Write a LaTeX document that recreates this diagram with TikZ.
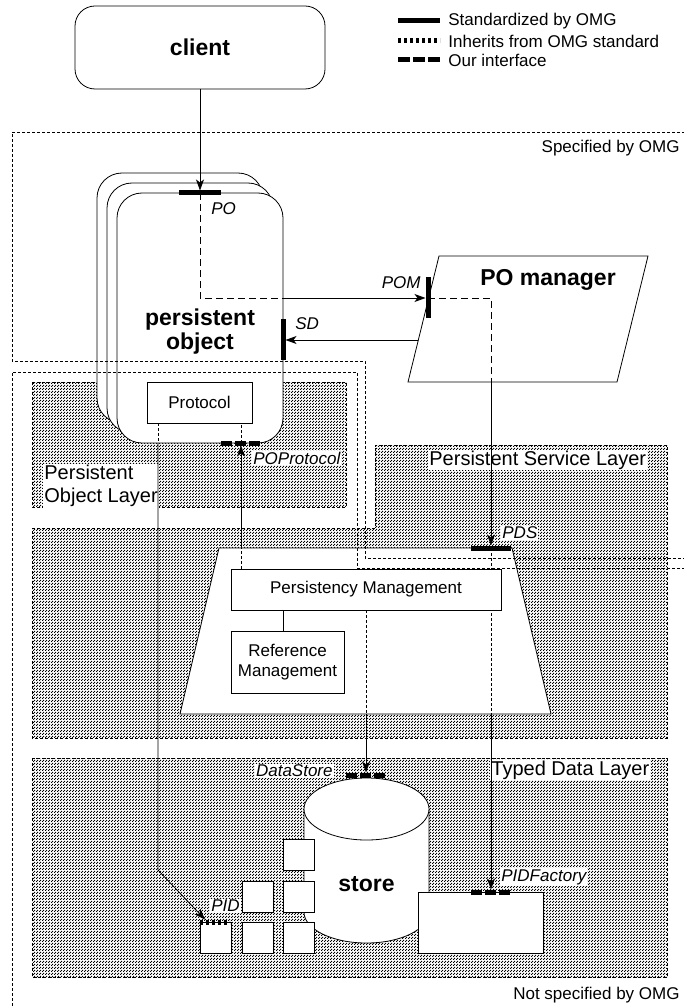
\documentclass[tikz,border=0pt]{standalone}
\usepackage{fontspec}
\setmainfont{Liberation Sans}
\usetikzlibrary{arrows.meta,patterns,positioning,calc}

\pgfdeclarepatternformonly{finedots}{\pgfpointorigin}{\pgfqpoint{3pt}{3pt}}{\pgfqpoint{3pt}{3pt}}{%
    \pgfpathrectangle{\pgfqpoint{0.1pt}{0.1pt}}{\pgfqpoint{1.3pt}{1.3pt}}%
    \pgfpathrectangle{\pgfqpoint{1.6pt}{1.6pt}}{\pgfqpoint{1.3pt}{1.3pt}}%
    \pgfusepath{fill}}

\begin{document}
\begin{tikzpicture}[x=1pt,y=-1pt,line width=0.8pt,
        >={Stealth[length=11pt,width=8pt,inset=3pt]},
        txt/.style={font=\fontsize{17}{20}\selectfont, inner sep=1pt},
        itlbl/.style={font=\fontsize{17}{20}\selectfont\itshape, inner sep=1pt, fill=white},
        layerlbl/.style={font=\fontsize{20}{23}\selectfont, inner sep=1pt, fill=white, align=left},
        bigbold/.style={font=\fontsize{23}{24}\selectfont\bfseries, inner sep=1pt, align=center},
        box/.style={draw, fill=white, inner sep=1pt, font=\fontsize{17}{20}\selectfont, align=center},
        pobj/.style={draw, fill=white, rounded corners=25pt, minimum width=166pt, minimum height=250pt},
        sq/.style={draw, fill=white, minimum size=31pt, inner sep=0pt},
        layer/.style={draw, dash pattern=on 3pt off 2pt, line width=0.6pt, pattern=finedots, pattern color=black},
        region/.style={draw, dash pattern=on 3pt off 2pt, line width=0.6pt},
        longdash/.style={dash pattern=on 7pt off 4pt},
        finedash/.style={dash pattern=on 3pt off 2pt},
        stdbar/.style={line width=5pt},
        inhbar/.style={line width=5pt, dash pattern=on 3pt off 3pt},
        ourbar/.style={line width=5pt, dash pattern=on 11pt off 3pt}]
    \useasboundingbox (0,0) rectangle (683,1008);

    % legend
    \draw[stdbar] (398,21) -- (440,21);
    \node[txt, anchor=west] (lgstd) at (447,21) {Standardized by OMG};
    \draw[inhbar] (398,41) -- (440,41);
    \node[txt, anchor=west] (lginh) at (447,41) {Inherits from OMG standard};
    \draw[ourbar, dash pattern=on 12pt off 3pt] (398,60) -- (440,60);
    \node[txt, anchor=west] (lgour) at (447,60) {Our interface};

    % layers
    \path[layer] (32,382) rectangle (346,507);
    \path[layer] (32,528) -- (375,528) -- (375,445) -- (667,445) -- (667,738) -- (32,738) -- cycle;
    \path[layer] (32,758) rectangle (667,977);
    \node[layerlbl, anchor=west] (pol) at (43,486) {Persistent\\Object Layer};
    \node[layerlbl, anchor=west] (psl) at (428,460) {Persistent Service Layer};
    \node[layerlbl, anchor=west] (tdl) at (490,770) {Typed Data Layer};

    % client and persistent object
    \node[pobj, rounded corners=20pt, minimum width=250pt, minimum height=83pt,
        bigbold] (client) at (200,47.5) {client};
    \node[pobj] (obj3) at (180,298) {};
    \node[pobj] (obj2) at (190,308) {};
    \node[pobj] (obj1) at (200,318) {};
    \node[bigbold] (objlbl) at (200,332) {persistent\\object};
    \node[box, minimum width=105pt, minimum height=41pt] (protocol) at (199.5,402.5) {Protocol};

    % PO manager
    \coordinate (mgrtl) at (439,256);
    \coordinate (mgrtr) at (648,256);
    \coordinate (mgrbr) at (617,382);
    \coordinate (mgrbl) at (408,382);
    \draw[fill=white] (mgrtl) -- (mgrtr) -- (mgrbr) -- (mgrbl) -- cycle;
    \node[bigbold] (mgr) at (548,280) {PO manager};

    % persistent service
    \coordinate (traptl) at (219,548);
    \coordinate (traptr) at (512,548);
    \coordinate (trapbr) at (551,714);
    \coordinate (trapbl) at (180,714);
    \draw[fill=white] (traptl) -- (traptr) -- (trapbr) -- (trapbl) -- cycle;

    % store
    \draw[fill=white] (304,809) -- (304,912) arc[start angle=180, end angle=360,
        x radius=62.5pt, y radius=31pt] -- (429,809);
    \draw[fill=white] (366.5,809) ellipse[x radius=62.5pt, y radius=31pt];
    \node[bigbold] (store) at (366.5,884) {store};

    % interfaces
    \coordinate (PO) at (200,193);
    \coordinate (POM) at (428,298);
    \coordinate (SD) at (283,340);
    \coordinate (POProtocol) at (241,443);
    \coordinate (PDS) at (491,548);
    \coordinate (DataStore) at (366,775);
    \coordinate (PIDFactory) at (491,892);
    \coordinate (PID) at (215,922);
    \coordinate (sdfrom) at (418,340);
    \coordinate (pidbend) at (158,870);

    % connectors
    \draw[->, shorten >=2.5pt] (client) -- (PO);
    \draw[longdash] (PO) |- (obj1.east |- POM);
    \draw[->, shorten >=2.5pt] (obj1.east |- POM) -- (POM);
    \draw[longdash] (POM) -| (PDS |- mgrbl);
    \draw[->, shorten >=2.5pt] (PDS |- mgrbl) -- (PDS);
    \draw[finedash] (PDS) -- (PDS |- trapbl);
    \draw[->, shorten >=2.5pt] (PDS |- trapbl) -- (PIDFactory);
    \draw[->, shorten >=2.5pt] (sdfrom) -- (SD);
    \draw[finedash] (POProtocol) -- (protocol.south -| POProtocol);
    \draw[finedash] (protocol.south -| pidbend) -- (obj1.south -| pidbend);
    \draw[->] (obj1.south -| pidbend) -- (pidbend) -- ([xshift=-10pt,yshift=2.5pt]PID);

    \node[box, minimum width=270pt, minimum height=41pt] (pm) at (366,589.5) {Persistency Management};
    \node[box, minimum width=113pt, minimum height=62pt] (refmgmt) at (287.5,662) {Reference\\Management};
    \draw ([xshift=-4.5pt]refmgmt.north) -- ([xshift=-4.5pt]refmgmt.north |- pm.south);
    \draw[finedash] (pm.north -| POProtocol) -- (POProtocol |- traptl);
    \draw[->, shorten >=2.5pt] (POProtocol |- traptl) -- (POProtocol);
    \draw[finedash] (pm.south -| DataStore) -- (DataStore |- trapbl);
    \draw[->, shorten >=2.5pt] (DataStore |- trapbl) -- (DataStore);

    % small objects in the store
    \foreach \n/\x/\y in {1/298.5/854.5, 2/257.5/897, 3/298.5/897, 4/216/937.5, 5/257.5/937.5, 6/298.5/937.5}
        \node[sq] (obj\n) at (\x,\y) {};
    \node[sq, minimum width=125pt, minimum height=61pt] (pidfactory) at (480.5,922.5) {};

    % bars
    \draw[stdbar] ([xshift=-21pt]PO) -- ([xshift=21pt]PO);
    \draw[stdbar] ([yshift=21pt]POM) -- ([yshift=-20pt]POM);
    \draw[stdbar] ([yshift=21pt]SD) -- ([yshift=-20pt]SD);
    \draw[stdbar] ([xshift=-20pt]PDS) -- ([xshift=20pt]PDS);
    \draw[ourbar] ([xshift=-20pt]POProtocol) -- ([xshift=19pt]POProtocol);
    \draw[ourbar] ([xshift=-20pt]DataStore) -- ([xshift=19pt]DataStore);
    \draw[ourbar] ([xshift=-20pt]PIDFactory) -- ([xshift=19pt]PIDFactory);
    \draw[inhbar] ([xshift=-15pt]PID) -- ([xshift=15pt]PID);

    % interface labels
    \node[itlbl, fill=none, anchor=west] (lblpo) at (210,209) {PO};
    \node[itlbl, fill=none, anchor=west] (lblsd) at (294,324) {SD};
    \node[itlbl, fill=none, anchor=east] (lblpom) at (422,283) {POM};
    \node[itlbl, anchor=west] (lblpop) at (252,458) {POProtocol};
    \node[itlbl, anchor=west] (lblpds) at (501,533) {PDS};
    \node[itlbl, anchor=east] (lblds) at (334,771) {DataStore};
    \node[itlbl, anchor=west] (lblpidf) at (500,877) {PIDFactory};
    \node[itlbl, anchor=west] (lblpid) at (210,906) {PID};

    % specified / not specified
    \draw[region] (700,132) -- (12,132) -- (12,361) -- (365,361) -- (365,558) -- (700,558);
    \draw[region] (700,568) -- (357,568) -- (357,372) -- (12,372) -- (12,1020);
    \node[txt, anchor=east] (spec) at (681,148) {Specified by OMG};
    \node[txt, anchor=east] (nspec) at (681,995) {Not specified by OMG};
\end{tikzpicture}
\end{document}
